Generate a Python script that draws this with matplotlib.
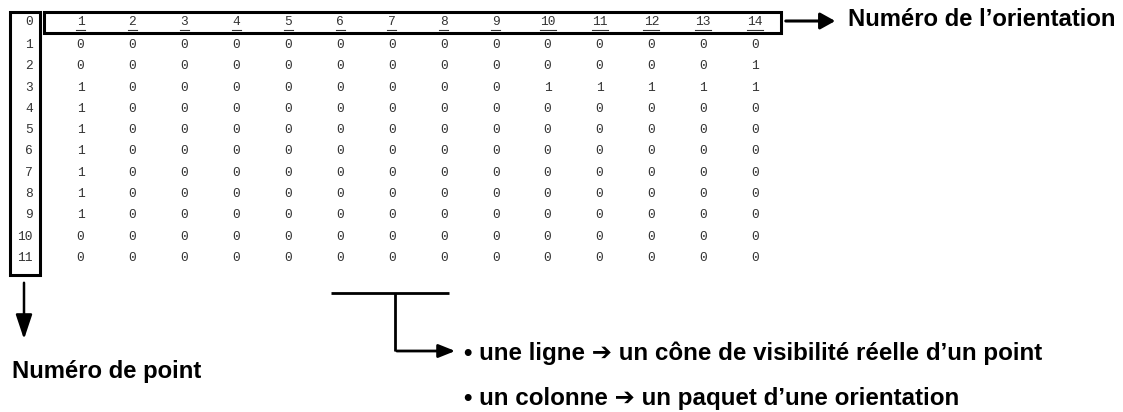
import matplotlib
matplotlib.use("Agg")
import matplotlib.pyplot as plt
from matplotlib.patches import Rectangle, FancyArrowPatch

# ---- data ----
orientations = list(range(1, 15))          # column headers
points = list(range(1, 12))                # row indices
visibility = [
    [0, 0, 0, 0, 0, 0, 0, 0, 0, 0, 0, 0, 0, 0],
    [0, 0, 0, 0, 0, 0, 0, 0, 0, 0, 0, 0, 0, 1],
    [1, 0, 0, 0, 0, 0, 0, 0, 0, 1, 1, 1, 1, 1],
    [1, 0, 0, 0, 0, 0, 0, 0, 0, 0, 0, 0, 0, 0],
    [1, 0, 0, 0, 0, 0, 0, 0, 0, 0, 0, 0, 0, 0],
    [1, 0, 0, 0, 0, 0, 0, 0, 0, 0, 0, 0, 0, 0],
    [1, 0, 0, 0, 0, 0, 0, 0, 0, 0, 0, 0, 0, 0],
    [1, 0, 0, 0, 0, 0, 0, 0, 0, 0, 0, 0, 0, 0],
    [1, 0, 0, 0, 0, 0, 0, 0, 0, 0, 0, 0, 0, 0],
    [0, 0, 0, 0, 0, 0, 0, 0, 0, 0, 0, 0, 0, 0],
    [0, 0, 0, 0, 0, 0, 0, 0, 0, 0, 0, 0, 0, 0],
]
label_orient = "Numéro de l\u2019orientation"
label_point = "Numéro de point"
note_line = "\u2022 une ligne \u2794 un cône de visibilité réelle d\u2019un point"
note_col = "\u2022 un colonne \u2794 un paquet d\u2019une orientation"

# ---- layout ----
W, H = 1123, 412
fig = plt.figure(figsize=(W / 100, H / 100), dpi=100)
ax = fig.add_axes([0, 0, 1, 1])
ax.set_xlim(0, W)
ax.set_ylim(H, 0)
ax.axis("off")

mono = dict(family="Liberation Mono", fontsize=9.3, color="#333333")
x0, dx = 80.5, 51.9
y_head = 22
y0, dy = 45, 21.3
x_idx = 33

# header row
ax.text(x_idx, y_head, "0", ha="right", va="center", **mono)
for j, o in enumerate(orientations):
    x = x0 + j * dx
    ax.text(x, y_head, str(o), ha="center", va="center", **mono)
    w = 4.5 if o < 10 else 8
    ax.plot([x - w, x + w], [y_head + 7.5, y_head + 7.5], color="#333333", lw=0.8)

# body rows
for i, p in enumerate(points):
    y = y0 + i * dy
    ax.text(x_idx, y, str(p), ha="right", va="center", **mono)
    for j, v in enumerate(visibility[i]):
        ax.text(x0 + j * dx, y, str(v), ha="center", va="center", **mono)

# boxes
ax.add_patch(Rectangle((10, 12), 29.5, 263, fill=False, lw=2.2, ec="black"))
ax.add_patch(Rectangle((43.5, 12), 737, 21, fill=False, lw=2.2, ec="black"))

bold = dict(family=["Liberation Sans", "DejaVu Sans"], fontweight="bold",
            fontsize=17.2, color="black")
bold_note = dict(bold, fontsize=17.4)

# arrow to "Numéro de l'orientation"
ax.add_patch(FancyArrowPatch((783, 21), (838, 21), arrowstyle="-|>,head_length=9,head_width=5",
                             lw=2.2, color="black", mutation_scale=1))
ax.text(848, 26, label_orient, ha="left", va="baseline", **bold)

# arrow down to "Numéro de point"
ax.add_patch(FancyArrowPatch((24, 280), (24, 342), arrowstyle="-|>,head_length=15,head_width=5",
                             lw=1.8, color="black", mutation_scale=1))
ax.text(12, 378, label_point, ha="left", va="baseline", **bold)

# bracket
ax.plot([331, 449], [293, 293], color="black", lw=2.0, solid_capstyle="butt")
ax.plot([395, 395], [293, 351], color="black", lw=2.0, solid_capstyle="butt")
ax.add_patch(FancyArrowPatch((394, 351), (458, 351), arrowstyle="-|>,head_length=10,head_width=4",
                             lw=2.0, color="black", mutation_scale=1))

ax.text(464, 353, note_line, ha="left", va="center", **bold_note)
ax.text(464, 398, note_col, ha="left", va="center", **bold_note)

fig.savefig("out.png", dpi=100, facecolor="white")
